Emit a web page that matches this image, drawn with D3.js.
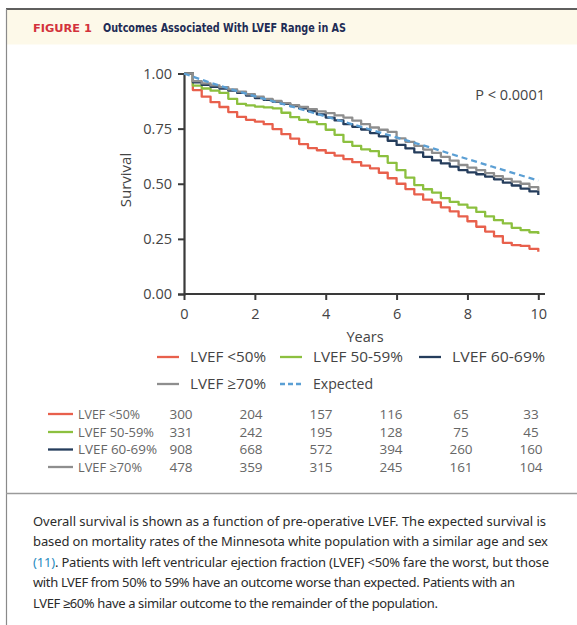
<!DOCTYPE html>
<html><head><meta charset="utf-8">
<script src="https://cdn.jsdelivr.net/npm/d3@7/dist/d3.min.js"></script>
<style>
html,body{margin:0;padding:0;background:#fff;}
svg{display:block;}
</style></head>
<body>
<svg id="c" width="577" height="625"></svg>
<script>
// ---- data ----
const years = [0,0.25,0.5,0.75,1,1.25,1.5,1.75,2,2.25,2.5,2.75,3,3.25,3.5,3.75,4,4.25,4.5,4.75,5,5.25,5.5,5.75,6,6.25,6.5,6.75,7,7.25,7.5,7.75,8,8.25,8.5,8.75,9,9.25,9.5,9.75,10];
const lvefLt50 = [1.000,0.925,0.895,0.870,0.848,0.825,0.803,0.790,0.782,0.770,0.748,0.725,0.705,0.680,0.662,0.652,0.640,0.628,0.612,0.598,0.582,0.570,0.550,0.525,0.500,0.476,0.452,0.428,0.415,0.393,0.375,0.352,0.330,0.305,0.283,0.262,0.232,0.222,0.218,0.205,0.192];
const lvef50_59 = [1.000,0.945,0.932,0.922,0.912,0.885,0.862,0.855,0.850,0.846,0.842,0.822,0.802,0.790,0.780,0.770,0.745,0.722,0.690,0.672,0.656,0.648,0.625,0.595,0.562,0.528,0.494,0.475,0.460,0.435,0.418,0.405,0.392,0.372,0.352,0.335,0.320,0.300,0.290,0.280,0.272];
const lvef60_69 = [1.000,0.960,0.948,0.940,0.932,0.922,0.912,0.900,0.889,0.880,0.872,0.862,0.852,0.842,0.830,0.815,0.800,0.787,0.770,0.758,0.746,0.730,0.715,0.695,0.676,0.660,0.642,0.622,0.606,0.592,0.578,0.562,0.552,0.543,0.532,0.520,0.505,0.492,0.478,0.465,0.449];
const lvefGe70 = [1.000,0.965,0.955,0.946,0.938,0.928,0.918,0.906,0.895,0.885,0.876,0.866,0.856,0.848,0.838,0.828,0.820,0.810,0.800,0.786,0.770,0.755,0.745,0.735,0.706,0.690,0.672,0.655,0.640,0.622,0.605,0.585,0.573,0.562,0.548,0.535,0.522,0.510,0.500,0.485,0.468];
const expYears = [0,1,2,3,4,5,6,7,8,9,10];
const expected = [1.000,0.945,0.897,0.852,0.805,0.758,0.710,0.662,0.612,0.563,0.514];

const seriesNames = ["LVEF <50%","LVEF 50-59%","LVEF 60-69%","LVEF \u226570%"];
const seriesColors = ["#e8604c","#8cc03f","#253d5c","#8e8e8e"];
const expectedColor = "#5b9fd4";

const xTicks = [0,2,4,6,8,10];
const yTicks = [0,0.25,0.5,0.75,1];

const riskYears = [0,2,4,6,8,10];
const riskLt50 = [300,204,157,116,65,33];
const risk50_59 = [331,242,195,128,75,45];
const risk60_69 = [908,668,572,394,260,160];
const riskGe70 = [478,359,315,245,161,104];

const captionLines = [
 "Overall survival is shown as a function of pre-operative LVEF. The expected survival is",
 "based on mortality rates of the Minnesota white population with a similar age and sex",
 "|(11)|. Patients with left ventricular ejection fraction (LVEF) <50% fare the worst, but those",
 "with LVEF from 50% to 59% have an outcome worse than expected. Patients with an",
 "LVEF \u226560% have a similar outcome to the remainder of the population."
];
const captionWidths = [513,515,516,482,405];

// ---- drawing ----
const svg = d3.select("#c");
const F = "'Open Sans', sans-serif";

// frame
svg.append("rect").attr("x",6).attr("y",9.5).attr("width",571).attr("height",35).attr("fill","#fdf9e9");
svg.append("line").attr("x1",6).attr("x2",577).attr("y1",9).attr("y2",9).attr("stroke","#2a2a2a").attr("stroke-width",1.6);
svg.append("line").attr("x1",6.5).attr("x2",6.5).attr("y1",9).attr("y2",625).attr("stroke","#8a8a8a").attr("stroke-width",1.2);
svg.append("line").attr("x1",6).attr("x2",577).attr("y1",493.5).attr("y2",493.5).attr("stroke","#9a9a9a").attr("stroke-width",1.4);

// title
svg.append("text").attr("x",33).attr("y",32).attr("font-family","'DejaVu Sans', sans-serif").attr("font-weight","bold")
  .attr("font-size",10.5).attr("fill","#d3323c").attr("textLength",59).attr("lengthAdjust","spacingAndGlyphs").text("FIGURE 1");
svg.append("text").attr("x",103).attr("y",32).attr("font-family","'DejaVu Sans Condensed','DejaVu Sans', sans-serif").attr("font-weight","bold")
  .attr("font-size",12).attr("fill","#1e2c55").attr("textLength",243).attr("lengthAdjust","spacingAndGlyphs").text("Outcomes Associated With LVEF Range in AS");

// scales
const x = d3.scaleLinear().domain([0,10]).range([184,538.3]);
const y = d3.scaleLinear().domain([0,1]).range([294,73.5]);

// axes
const axisColor = "#3a3a3a";
const gx = svg.append("g").attr("transform","translate(0,294)")
  .call(d3.axisBottom(x).tickValues(xTicks).tickFormat(d3.format("d")).tickSizeOuter(0).tickSize(6).tickPadding(5));
gx.select(".domain").attr("d","M184,0H545");
const gy = svg.append("g").attr("transform","translate(184,0)")
  .call(d3.axisLeft(y).tickValues(yTicks).tickFormat(d3.format(".2f")).tickSizeOuter(0).tickSize(6).tickPadding(6));
[gx,gy].forEach(g=>{
  g.select(".domain").attr("stroke",axisColor).attr("stroke-width",2.2);
  g.selectAll(".tick line").attr("stroke",axisColor).attr("stroke-width",2);
  g.selectAll(".tick text").attr("font-family",F).attr("font-size",14.5).attr("fill","#444");
});
gx.selectAll(".tick text").attr("dy","0.95em");

svg.append("text").attr("transform","translate(131,180) rotate(-90)").attr("text-anchor","middle")
  .attr("font-family",F).attr("font-size",15).attr("fill","#444").text("Survival");
svg.append("text").attr("x",365).attr("y",342).attr("text-anchor","middle")
  .attr("font-family",F).attr("font-size",14.5).attr("fill","#444").text("Years");
svg.append("text").attr("x",545).attr("y",100).attr("text-anchor","end")
  .attr("font-family",F).attr("font-size",14.5).attr("fill","#444").text("P < 0.0001");

// curves
const allSeries = [lvefLt50,lvef50_59,lvef60_69,lvefGe70];
const stepLine = d3.line().x((d,i)=>x(years[i])).y(d=>y(d)).curve(d3.curveStepAfter);
allSeries.forEach((s,k)=>{
  svg.append("path").attr("d",stepLine(s)).attr("fill","none").attr("stroke",seriesColors[k]).attr("stroke-width",2.3).attr("stroke-linejoin","round");
});
const expLine = d3.line().x((d,i)=>x(expYears[i])).y(d=>y(d)).curve(d3.curveMonotoneX);
svg.append("path").attr("d",expLine(expected)).attr("fill","none").attr("stroke",expectedColor).attr("stroke-width",2.3).attr("stroke-dasharray","6,4");

// legend
const legendItems = [
  {name:seriesNames[0],color:seriesColors[0],x:157,y:357,w:76},
  {name:seriesNames[1],color:seriesColors[1],x:280,y:357,w:90},
  {name:seriesNames[2],color:seriesColors[2],x:419,y:357,w:93},
  {name:seriesNames[3],color:seriesColors[3],x:157,y:384,w:76},
  {name:"Expected",color:expectedColor,x:280,y:384,w:60,dash:true}
];
legendItems.forEach(it=>{
  svg.append("line").attr("x1",it.x).attr("x2",it.x+22).attr("y1",it.y).attr("y2",it.y)
    .attr("stroke",it.color).attr("stroke-width",2.3).attr("stroke-dasharray",it.dash?"5,3":null);
  svg.append("text").attr("x",it.x+33).attr("y",it.y).attr("dy","0.35em")
    .attr("font-family",F).attr("font-size",15).attr("fill","#444")
    .attr("textLength",it.w).attr("lengthAdjust","spacingAndGlyphs").text(it.name);
});

// risk table
const riskRows = [riskLt50,risk50_59,risk60_69,riskGe70];
const rowY = [414,432,449.5,467];
const labelW = [62,76,79,64];
const tx = d3.scaleLinear().domain([0,10]).range([181,531]);
riskRows.forEach((r,k)=>{
  svg.append("line").attr("x1",48).attr("x2",73).attr("y1",rowY[k]).attr("y2",rowY[k])
    .attr("stroke",seriesColors[k]).attr("stroke-width",2.3);
  svg.append("text").attr("x",78).attr("y",rowY[k]).attr("dy","0.35em").attr("font-family",F).attr("font-size",13.5)
    .attr("fill","#666").attr("textLength",labelW[k]).attr("lengthAdjust","spacingAndGlyphs").text(seriesNames[k]);
  r.forEach((v,i)=>{
    svg.append("text").attr("x",tx(riskYears[i])).attr("y",rowY[k]).attr("dy","0.35em").attr("text-anchor","middle")
      .attr("font-family",F).attr("font-size",13.5).attr("fill","#666").text(v);
  });
});

// caption
const capY = [521,541.5,562,582.5,603];
captionLines.forEach((ln,i)=>{
  const t = svg.append("text").attr("x",33).attr("y",capY[i]).attr("dy","0.35em")
    .attr("font-family","'Noto Sans', sans-serif").attr("font-size",13).attr("fill","#2b2b2b")
    .attr("textLength",captionWidths[i]).attr("lengthAdjust","spacing");
  ln.split("|").forEach((part,j)=>{
    if(part.length) t.append("tspan").attr("fill", j===1?"#2a8cbf":null).text(part);
  });
});
</script>
</body></html>
